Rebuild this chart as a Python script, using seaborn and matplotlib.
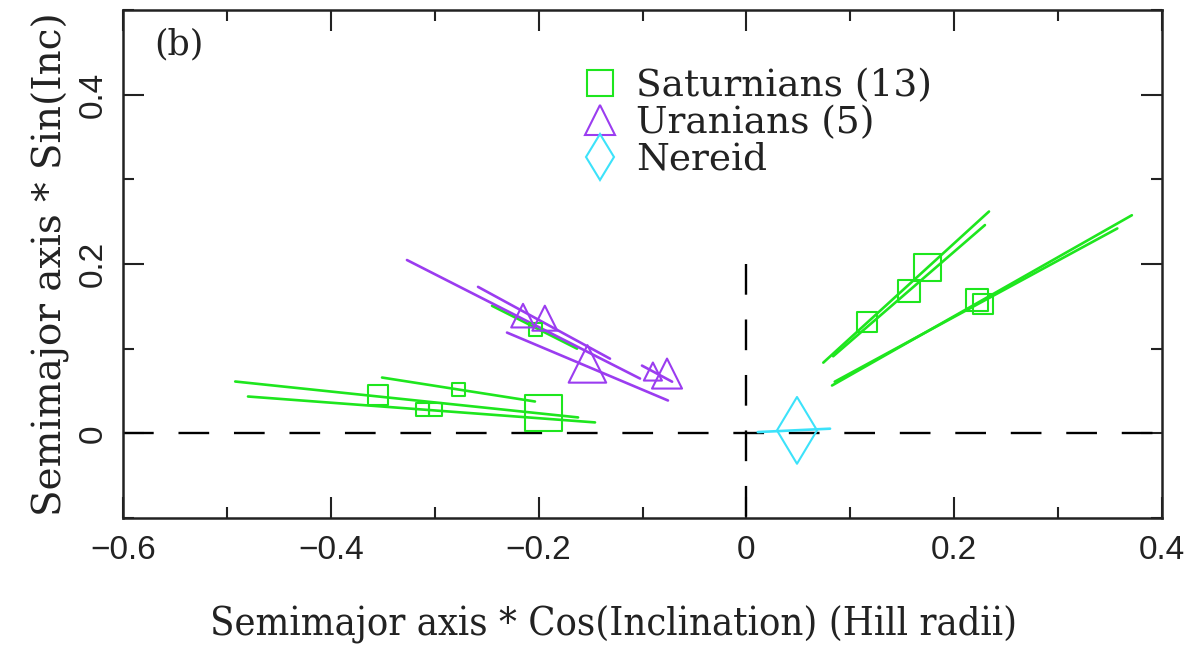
import numpy as np
import pandas as pd
import matplotlib
matplotlib.use("Agg")
import matplotlib.pyplot as plt
import seaborn as sns
from matplotlib.lines import Line2D
from matplotlib.ticker import MultipleLocator, FuncFormatter

# ---------------- data ----------------
# Saturnians: marker positions and marker sizes (pt)
sat_x = [-0.195, -0.355, -0.312, -0.299, -0.277, -0.203, 0.116, 0.1565, 0.174, 0.222, 0.228]
sat_y = [0.024, 0.045, 0.028, 0.028, 0.052, 0.123, 0.131, 0.168, 0.196, 0.157, 0.153]
sat_ms = [26.6, 14.4, 9.4, 9.4, 9.4, 9.4, 14.4, 15.8, 19.4, 15.8, 14.4]
# Saturnian segments (x0, y0, x1, y1)
sat_seg_x0 = [-0.492, -0.4797, -0.3507, -0.2448, 0.074, 0.0835, 0.0824, 0.085]
sat_seg_y0 = [0.0612, 0.0435, 0.0659, 0.1506, 0.0835, 0.091, 0.0565, 0.061]
sat_seg_x1 = [-0.162, -0.1457, -0.2035, -0.163, 0.2335, 0.2296, 0.371, 0.357]
sat_seg_y1 = [0.0188, 0.0129, 0.0376, 0.100, 0.262, 0.246, 0.2576, 0.242]

# Uranians
ura_x = [-0.215, -0.194, -0.153, -0.090, -0.0764]
ura_y = [0.139, 0.136, 0.082, 0.073, 0.0706]
ura_ms = [17.0, 18.0, 27.0, 13.0, 21.6]
ura_seg_x0 = [-0.3267, -0.2583, -0.2304, -0.1005]
ura_seg_y0 = [0.2047, 0.173, 0.119, 0.080]
ura_seg_x1 = [-0.1024, -0.1313, -0.0755, -0.0715]
ura_seg_y1 = [0.0647, 0.0882, 0.0388, 0.061]

# Nereid
ner_x = [0.0487]
ner_y = [0.0035]
ner_ms = [34.0]
ner_seg_x0 = [0.011]
ner_seg_y0 = [0.0015]
ner_seg_x1 = [0.0805]
ner_seg_y1 = [0.0055]

labels = ["Saturnians (13)", "Uranians (5)", "Nereid"]
GREEN, PURPLE, CYAN = "#1ee61e", "#9b3cf0", "#3ce2fa"
palette = {"S": GREEN, "U": PURPLE, "N": CYAN}

# build segment table
rows = []
sid = 0
for g, X0, Y0, X1, Y1 in [("S", sat_seg_x0, sat_seg_y0, sat_seg_x1, sat_seg_y1),
                          ("U", ura_seg_x0, ura_seg_y0, ura_seg_x1, ura_seg_y1),
                          ("N", ner_seg_x0, ner_seg_y0, ner_seg_x1, ner_seg_y1)]:
    for a, b, c, d in zip(X0, Y0, X1, Y1):
        rows.append(dict(group=g, seg=sid, x=a, y=b, k=0))
        rows.append(dict(group=g, seg=sid, x=c, y=d, k=1))
        sid += 1
segs = pd.DataFrame(rows)

sns.set_theme(style="ticks")
plt.rcParams["font.family"] = ["DejaVu Serif"]

fig = plt.figure(figsize=(11.93, 6.46), dpi=100)
ax = fig.add_axes([123 / 1193, 1 - 518 / 646, 1039 / 1193, 508 / 646])

# reference dashed lines
ax.plot([-0.6, 0.4], [0, 0], color="black", lw=1.7, ls=(0, (13, 10.5)), zorder=1)
ax.plot([0, 0], [0.2, -0.1], color="black", lw=1.7, ls=(0, (13, 10.5)), zorder=1)

sns.lineplot(data=segs, x="x", y="y", hue="group", units="seg", estimator=None,
             sort=False, palette=palette, lw=1.9, legend=False, ax=ax, zorder=2)

for xs, ys, ms, mk, col in [(sat_x, sat_y, sat_ms, "s", GREEN),
                            (ura_x, ura_y, ura_ms, "^", PURPLE),
                            (ner_x, ner_y, ner_ms, "d", CYAN)]:
    sns.scatterplot(x=xs, y=ys, s=np.array(ms) ** 2, marker=mk, facecolor="none",
                    edgecolor=col, linewidth=1.5, legend=False, ax=ax, zorder=3)

ax.set_xlim(-0.6, 0.4)
ax.set_ylim(-0.1, 0.5)
ax.xaxis.set_major_locator(MultipleLocator(0.2))
ax.xaxis.set_minor_locator(MultipleLocator(0.1))
ax.yaxis.set_major_locator(MultipleLocator(0.2))
ax.yaxis.set_minor_locator(MultipleLocator(0.1))
fmt = FuncFormatter(lambda v, p: "0" if abs(v) < 1e-9 else ("%g" % v).replace("-", "\u2212"))
ax.xaxis.set_major_formatter(fmt)
ax.yaxis.set_major_formatter(fmt)
ax.tick_params(which="both", direction="in", top=True, right=True, color="#222222", width=1.5)
ax.tick_params(which="major", length=15)
ax.tick_params(which="minor", length=8)
ax.tick_params(axis="x", which="major", pad=12, labelsize=24)
ax.tick_params(axis="y", which="major", pad=10, labelsize=24)
for lab in ax.get_xticklabels() + ax.get_yticklabels():
    lab.set_family("Liberation Sans")
    lab.set_color("#222222")
for lab in ax.get_yticklabels():
    lab.set_rotation(90)
    lab.set_va("center")
for sp in ax.spines.values():
    sp.set_linewidth(1.8)
    sp.set_color("#222222")

ax.set_xlabel("Semimajor axis * Cos(Inclination) (Hill radii)", fontsize=28.5,
              fontstretch="condensed", color="#222222")
ax.xaxis.set_label_coords(0.472, -0.172)
ax.set_ylabel("Semimajor axis * Sin(Inc)", fontsize=28, labelpad=6, color="#222222")

ax.text(0.03, 0.965, "(b)", transform=ax.transAxes, fontsize=25, va="top", ha="left", color="#222222")

handles = [
    Line2D([], [], ls="none", marker="s", mfc="none", mec=GREEN, ms=19, mew=1.5),
    Line2D([], [], ls="none", marker="^", mfc="none", mec=PURPLE, ms=21, mew=1.5),
    Line2D([], [], ls="none", marker="d", mfc="none", mec=CYAN, ms=23, mew=1.5),
]
leg = ax.legend(handles, labels, loc="upper left", bbox_to_anchor=(0.443, 0.885),
                frameon=False, fontsize=27, handlelength=0.9, handletextpad=0.5,
                labelspacing=0.02, borderpad=0, borderaxespad=0)
for t in leg.get_texts():
    t.set_color("#222222")

fig.savefig("out.png", dpi=100)
